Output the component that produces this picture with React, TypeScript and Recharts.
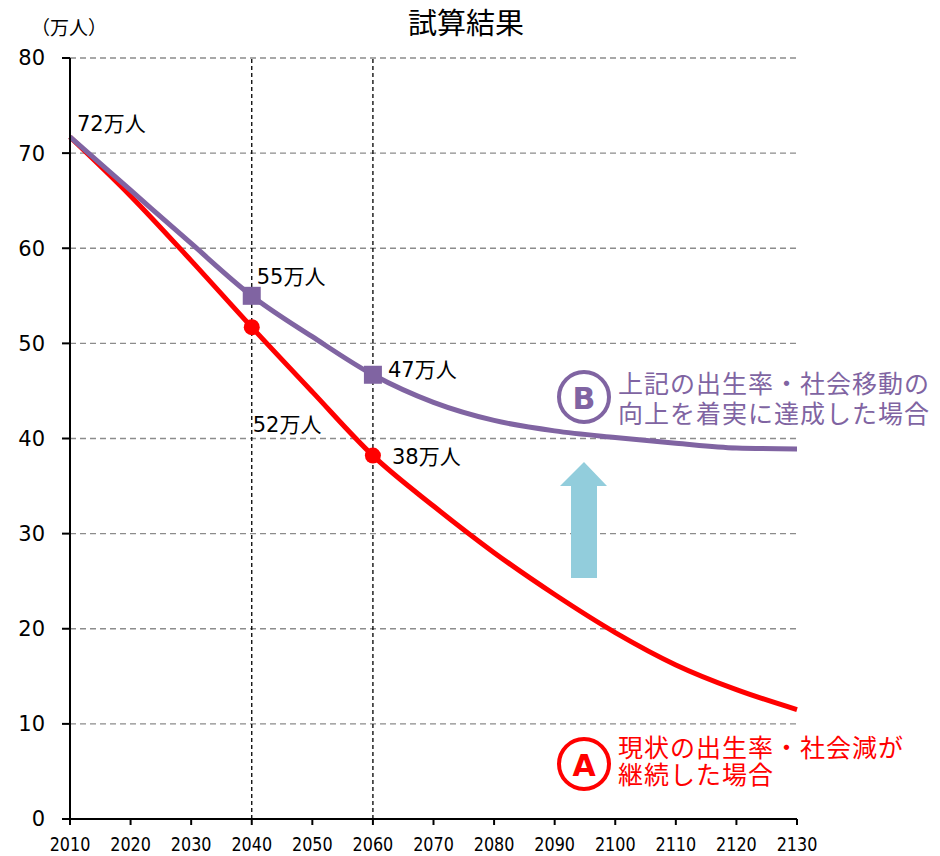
import React from 'react';
import { LineChart, Line, XAxis, YAxis, CartesianGrid, ReferenceLine } from 'recharts';

const years = [2010, 2020, 2030, 2040, 2050, 2060, 2070, 2080, 2090, 2100, 2110, 2120, 2130];
const seriesA = [71.7, 65.5, 58.7, 51.7, 44.9, 38.2, 32.9, 28.0, 23.6, 19.6, 16.2, 13.6, 11.5];
const seriesB = [71.7, 66.1, 60.5, 55.0, 50.7, 46.7, 43.8, 41.9, 40.8, 40.1, 39.5, 39.0, 38.9];
const xTicks = [2010, 2020, 2030, 2040, 2050, 2060, 2070, 2080, 2090, 2100, 2110, 2120, 2130];
const yTicks = [0, 10, 20, 30, 40, 50, 60, 70, 80];
const markerYears = [2040, 2060];
const refYears = [2040, 2060];
const labelsA: Record<number, string> = { 2040: '52万人', 2060: '38万人' };
const labelsB: Record<number, string> = { 2010: '72万人', 2040: '55万人', 2060: '47万人' };
const title = '試算結果';
const unitLabel = '（万人）';
const noteB = ['上記の出生率・社会移動の', '向上を着実に達成した場合'];
const noteA = ['現状の出生率・社会減が', '継続した場合'];

const data = years.map((y, i) => ({ year: y, a: seriesA[i], b: seriesB[i] }));

const PURPLE = '#8064A2';
const RED = '#FF0000';
const FONT = '"DejaVu Sans", "Noto Sans CJK JP", sans-serif';

const offsetsA: Record<number, [number, number]> = { 2040: [1, 98], 2060: [19, 1] };
const offsetsB: Record<number, [number, number]> = { 2010: [7, -13], 2040: [5, -19], 2060: [15, -5] };

const makeLabel = (labels: Record<number, string>, offsets: Record<number, [number, number]>) => (props: any) => {
  const { x, y, index } = props;
  const yr = years[index];
  const t = labels[yr];
  if (!t) return null;
  const [dx, dy] = offsets[yr];
  return (
    <text key={'l' + index} x={x + dx} y={y + dy} fontSize={21} fontFamily={FONT} fill="#000" dominantBaseline="central">
      {t}
    </text>
  );
};

const dotA = (props: any) => {
  const { cx, cy, index } = props;
  if (!markerYears.includes(years[index])) return <g key={'da' + index} />;
  return <circle key={'da' + index} cx={cx} cy={cy} r={8} fill={RED} />;
};
const dotB = (props: any) => {
  const { cx, cy, index } = props;
  if (!markerYears.includes(years[index])) return <g key={'db' + index} />;
  return <rect key={'db' + index} x={cx - 9} y={cy - 9} width={18} height={18} fill={PURPLE} />;
};

const XTick = (props: any) => {
  const { x, y, payload } = props;
  return (
    <text
      transform={`translate(${x},${y + 22}) scale(0.8,1)`}
      textAnchor="middle"
      fontSize={20}
      fontFamily={FONT}
      fill="#000"
    >
      {payload.value}
    </text>
  );
};

export default function App() {
  return (
    <div style={{ position: 'absolute', left: 0, top: 0, width: 940, height: 856, background: '#fff' }}>
      <LineChart width={940} height={856} data={data} margin={{ top: 58, right: 143, bottom: 7, left: 10 }}>
        <CartesianGrid vertical={false} stroke="#8c8c8c" strokeDasharray="6 4" strokeWidth={1.3} />
        <XAxis
          dataKey="year"
          type="number"
          domain={[2010, 2130]}
          ticks={xTicks}
          interval={0}
          height={30}
          tickSize={6}
          tickMargin={4}
          axisLine={{ stroke: '#000', strokeWidth: 2 }}
          tickLine={{ stroke: '#000', strokeWidth: 2 }}
          tick={<XTick />}
        />
        <YAxis
          type="number"
          domain={[0, 80]}
          ticks={yTicks}
          interval={0}
          width={60}
          tickSize={8}
          tickMargin={17}
          axisLine={{ stroke: '#000', strokeWidth: 2 }}
          tickLine={{ stroke: '#000', strokeWidth: 2 }}
          tick={{ fill: '#000', fontSize: 21, fontFamily: FONT }}
        />
        {refYears.map((yr) => (
          <ReferenceLine key={yr} x={yr} stroke="#000" strokeDasharray="4 3" strokeWidth={1.3} />
        ))}
        <Line
          dataKey="a"
          type="monotone"
          stroke={RED}
          strokeWidth={5}
          dot={dotA}
          activeDot={false}
          label={makeLabel(labelsA, offsetsA)}
          isAnimationActive={false}
        />
        <Line
          dataKey="b"
          type="monotone"
          stroke={PURPLE}
          strokeWidth={5}
          dot={dotB}
          activeDot={false}
          label={makeLabel(labelsB, offsetsB)}
          isAnimationActive={false}
        />
      </LineChart>
      <svg width={940} height={856} style={{ position: 'absolute', left: 0, top: 0, pointerEvents: 'none' }}>
        <text x={466} y={24} fontSize={29} fontFamily={FONT} textAnchor="middle" dominantBaseline="central" fill="#000">
          {title}
        </text>
        <text x={31} y={28} fontSize={19} fontFamily={FONT} dominantBaseline="central" fill="#000">
          {unitLabel}
        </text>
        <polygon points="571,578 597,578 597,486 607,486 584,462 560,486 571,486" fill="#92CDDC" />
        <circle cx={584} cy={397} r={25} fill="none" stroke={PURPLE} strokeWidth={4} />
        <text x={584} y={398} fontSize={30} fontWeight="bold" fontFamily={FONT} textAnchor="middle" dominantBaseline="central" fill={PURPLE}>
          B
        </text>
        {noteB.map((t, i) => (
          <text key={t} x={618} y={384 + i * 30} fontSize={25} letterSpacing={1} fontFamily={FONT} dominantBaseline="central" fill={PURPLE}>
            {t}
          </text>
        ))}
        <circle cx={584} cy={764} r={25} fill="none" stroke={RED} strokeWidth={4} />
        <text x={584} y={765} fontSize={30} fontWeight="bold" fontFamily={FONT} textAnchor="middle" dominantBaseline="central" fill={RED}>
          A
        </text>
        {noteA.map((t, i) => (
          <text key={t} x={618} y={748 + i * 27} fontSize={25} letterSpacing={1} fontFamily={FONT} dominantBaseline="central" fill={RED}>
            {t}
          </text>
        ))}
      </svg>
    </div>
  );
}
